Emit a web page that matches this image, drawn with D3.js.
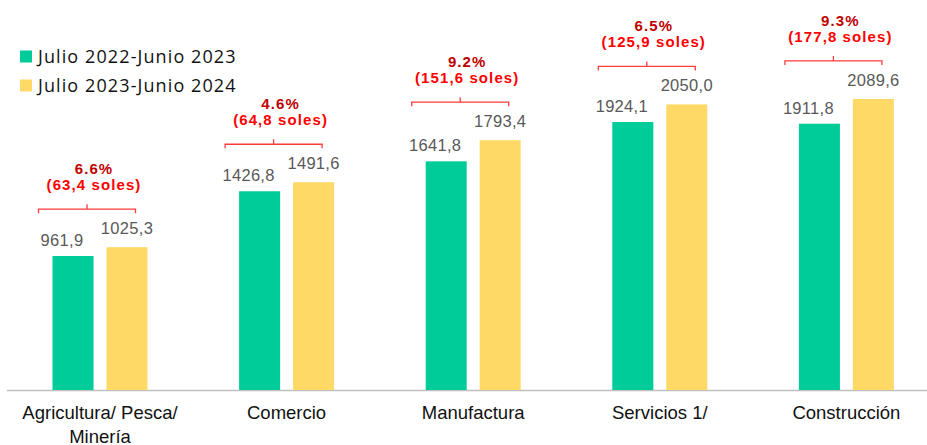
<!DOCTYPE html>
<html><head><meta charset="utf-8">
<script src="https://cdn.jsdelivr.net/npm/d3@7"></script>
<style>html,body{margin:0;padding:0;background:#fff;}svg{display:block;}</style>
</head><body>
<svg id="chart" width="927" height="445"></svg>
<script>
const categories = ["Agricultura/ Pesca/ Minería", "Comercio", "Manufactura", "Servicios 1/", "Construcción"];
const categoryLines = [["Agricultura/ Pesca/", "Minería"], ["Comercio"], ["Manufactura"], ["Servicios 1/"], ["Construcción"]];
const seriesNames = ["Julio 2022-Junio 2023", "Julio 2023-Junio 2024"];
const values2023 = [961.9, 1426.8, 1641.8, 1924.1, 1911.8];
const values2024 = [1025.3, 1491.6, 1793.4, 2050.0, 2089.6];
const valueLabels2023 = ["961,9", "1426,8", "1641,8", "1924,1", "1911,8"];
const valueLabels2024 = ["1025,3", "1491,6", "1793,4", "2050,0", "2089,6"];
const pctLabels = ["6.6%", "4.6%", "9.2%", "6.5%", "9.3%"];
const solesLabels = ["(63,4 soles)", "(64,8 soles)", "(151,6 soles)", "(125,9 soles)", "(177,8 soles)"];
const colors = ["#00CC99", "#FFD966"];

const svg = d3.select("#chart");
const baseY = 390;
const y = d3.scaleLinear().domain([0, 2800]).range([baseY, 0]);
const x = d3.scaleBand().domain(categories).range([6.7, 939.7]).padding(0);
const x1 = d3.scaleBand().domain([0, 1]).range([-47.5, 47.5]).paddingInner(0.24).paddingOuter(0);
const series = [values2023, values2024];
const labels = [valueLabels2023, valueLabels2024];
const cx = c => x(c) + x.bandwidth() / 2;

// axis line
svg.append("line").attr("x1", 7).attr("x2", 927).attr("y1", baseY + 0.5).attr("y2", baseY + 0.5)
  .attr("stroke", "#BFBFBF").attr("stroke-width", 1.5);

// bars
series.forEach((vals, s) => {
  svg.append("g").selectAll("rect").data(categories).join("rect")
    .attr("x", (c) => cx(c) + x1(s))
    .attr("width", x1.bandwidth())
    .attr("y", (c, i) => y(vals[i]))
    .attr("height", (c, i) => baseY - y(vals[i]))
    .attr("fill", colors[s]);
});

// value labels
const labelDx = [-11, 0];
const labelDy = [-10, -13];
series.forEach((vals, s) => {
  svg.append("g").selectAll("text").data(categories).join("text")
    .attr("x", (c) => cx(c) + x1(s) + x1.bandwidth() / 2 + labelDx[s])
    .attr("y", (c, i) => y(vals[i]) + labelDy[s])
    .attr("text-anchor", "middle")
    .attr("font-family", "Liberation Sans, Arial, sans-serif")
    .attr("font-size", 16.5)
    .attr("letter-spacing", 0.3)
    .attr("fill", "#595959")
    .text((c, i) => labels[s][i]);
});

// annotations: brackets and growth labels
categories.forEach((c, i) => {
  const top = y(Math.max(values2023[i], values2024[i]));
  const by = top - 38;
  const bcx = cx(c) - 13;
  const half = 48.5;
  svg.append("path")
    .attr("d", `M${bcx - half},${by + 4}V${by}H${bcx + half}V${by + 4}M${bcx},${by}V${by - 5}`)
    .attr("fill", "none").attr("stroke", "#FF3B3B").attr("stroke-width", 1.3);
  const tx = cx(c) - 6;
  svg.append("text").attr("x", tx).attr("y", by - 35)
    .attr("text-anchor", "middle").attr("font-family", "Liberation Sans, Arial, sans-serif")
    .attr("font-weight", "bold").attr("font-size", 15).attr("letter-spacing", 1.1)
    .attr("fill", "#C00000").text(pctLabels[i]);
  svg.append("text").attr("x", tx).attr("y", by - 19)
    .attr("text-anchor", "middle").attr("font-family", "Liberation Sans, Arial, sans-serif")
    .attr("font-weight", "bold").attr("font-size", 15).attr("letter-spacing", 1.1)
    .attr("fill", "#FF0000").text(solesLabels[i]);
});

// category labels
categories.forEach((c, i) => {
  const t = svg.append("text").attr("x", cx(c)).attr("y", 419)
    .attr("text-anchor", "middle").attr("font-family", "Liberation Sans, Arial, sans-serif")
    .attr("font-size", 18.5).attr("fill", "#111");
  categoryLines[i].forEach((line, j) => {
    t.append("tspan").attr("x", cx(c)).attr("dy", j === 0 ? 0 : 23.5).text(line);
  });
});

// legend
const legend = svg.append("g");
seriesNames.forEach((name, s) => {
  const ly = 56.5 + s * 29;
  legend.append("rect").attr("x", 20).attr("y", ly - 6).attr("width", 12).attr("height", 12).attr("fill", colors[s]);
  legend.append("text").attr("x", 38).attr("y", ly + 6.5)
    .attr("font-family", "Open Sans, Noto Sans, sans-serif").attr("font-size", 18)
    .attr("letter-spacing", 1.1)
    .attr("fill", "#111").text(name);
});
</script>
</body></html>
